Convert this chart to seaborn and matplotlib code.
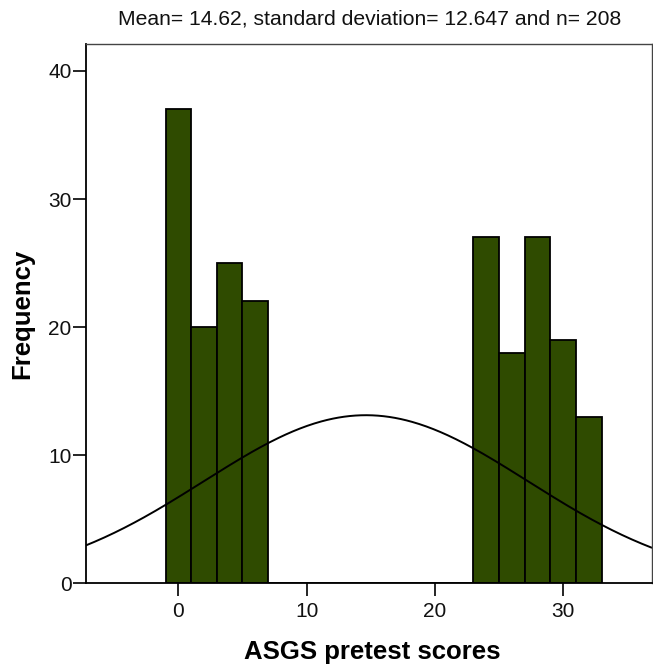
import numpy as np
import pandas as pd
import matplotlib
matplotlib.use("Agg")
import matplotlib.pyplot as plt
import seaborn as sns

# Data
bin_centers = [0, 2, 4, 6, 24, 26, 28, 30, 32]
frequencies = [37, 20, 25, 22, 27, 18, 27, 19, 13]
bin_width = 2
mean_val = 14.62
sd_val = 12.647
n_val = 208
x_ticks = [0, 10, 20, 30]
y_ticks = [0, 10, 20, 30, 40]
title_text = "Mean= 14.62, standard deviation= 12.647 and n= 208"
x_label = "ASGS pretest scores"
y_label = "Frequency"

sns.set_style("white")
plt.rcParams['font.family'] = ['Liberation Sans', 'DejaVu Sans']

df = pd.DataFrame({"score": bin_centers, "count": frequencies})

fig = plt.figure(figsize=(6.53, 6.67), dpi=100)
ax_left, ax_right, ax_bottom, ax_top = 0.1317, 0.998, 0.1255, 0.934
ax = fig.add_axes([ax_left, ax_bottom, ax_right - ax_left, ax_top - ax_bottom])

sns.histplot(data=df, x="score", weights="count", binwidth=bin_width,
             binrange=(-1, 33), ax=ax,
             color="#2F4B00", alpha=1.0, edgecolor="black", linewidth=1.3)

xs = np.linspace(-7.2, 36.9, 400)
ys = n_val * bin_width / (sd_val * np.sqrt(2 * np.pi)) * np.exp(-0.5 * ((xs - mean_val) / sd_val) ** 2)
ax.plot(xs, ys, color="black", linewidth=1.4)

ax.set_xlim(-7.2, 36.9)
ax.set_ylim(0, 42.1)
ax.set_xticks(x_ticks)
ax.set_yticks(y_ticks)
ax.tick_params(axis="both", which="both", direction="out", length=9.5, width=1.2,
               color="black", labelsize=15, bottom=True, left=True)
ax.tick_params(axis="y", pad=1)
ax.tick_params(axis="x", pad=4)
for lab in ax.get_xticklabels() + ax.get_yticklabels():
    lab.set_color("#111111")

for s in ["left", "bottom"]:
    ax.spines[s].set_color("black")
    ax.spines[s].set_linewidth(1.3)
for s in ["top", "right"]:
    ax.spines[s].set_color("#444444")
    ax.spines[s].set_linewidth(1.0)

ax.set_xlabel(x_label, fontsize=18.5, fontweight="bold", va="center", color="black")
ax.xaxis.set_label_coords(0.506, -0.127)
ax.set_ylabel(y_label, fontsize=18.5, fontweight="bold", va="center", color="black")
ax.yaxis.set_label_coords(-0.113, 0.5)
fig.text(0.566, 1 - 19 / 667, title_text, ha="center", va="center",
         fontsize=15.2, color="#111111")

fig.savefig("out.png", dpi=100)
